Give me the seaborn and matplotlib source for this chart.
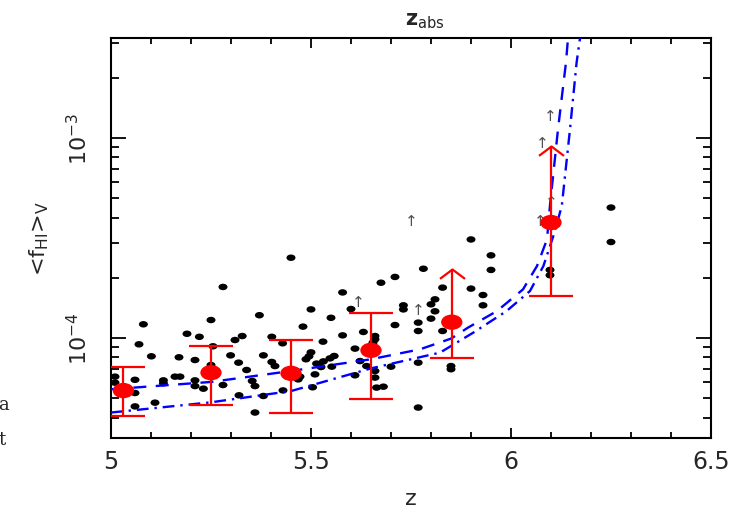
import matplotlib
matplotlib.use("Agg")
import matplotlib.pyplot as plt
import numpy as np
import pandas as pd
import seaborn as sns
from matplotlib.path import Path
from matplotlib.transforms import Affine2D
from matplotlib.ticker import LogLocator, MultipleLocator, NullFormatter

# ---- individual sightlines: redshift and volume-weighted neutral fraction
los_z = [5.010, 5.010, 5.060, 5.060, 5.060, 5.070, 5.081, 5.101, 5.110, 5.131,
         5.131, 5.160, 5.1725, 5.170, 5.190, 5.221, 5.210, 5.210, 5.210, 5.231,
         5.250, 5.280, 5.250, 5.255, 5.280, 5.299, 5.310, 5.328, 5.319, 5.320,
         5.339, 5.353, 5.360, 5.360, 5.371, 5.381, 5.381, 5.402, 5.402, 5.410,
         5.429, 5.430, 5.450, 5.468, 5.4725, 5.480, 5.4875, 5.495, 5.500, 5.500,
         5.504, 5.510, 5.514, 5.525, 5.530, 5.531, 5.550, 5.5475, 5.558, 5.552,
         5.579, 5.579, 5.600, 5.610, 5.610, 5.6225, 5.631, 5.639, 5.660, 5.660,
         5.655, 5.660, 5.660, 5.664, 5.675, 5.681, 5.700, 5.710, 5.710, 5.731,
         5.731, 5.768, 5.768, 5.768, 5.768, 5.781, 5.800, 5.810, 5.810, 5.800,
         5.829, 5.829, 5.850, 5.850, 5.900, 5.900, 5.930, 5.930, 5.950, 5.950,
         6.0975, 6.0975, 6.250, 6.250]
los_f = [6.41e-5, 5.98e-5, 6.18e-5, 5.31e-5, 4.55e-5, 9.30e-5, 1.171e-4, 8.10e-5, 4.75e-5, 6.14e-5,
         5.94e-5, 6.41e-5, 6.41e-5, 8.01e-5, 1.05e-4, 1.014e-4, 7.76e-5, 6.14e-5, 5.75e-5, 5.58e-5,
         1.23e-4, 1.80e-4, 7.33e-5, 9.09e-5, 5.82e-5, 8.19e-5, 9.77e-5, 1.023e-4, 7.53e-5, 5.17e-5,
         6.92e-5, 6.10e-5, 5.75e-5, 4.24e-5, 1.30e-4, 8.19e-5, 5.13e-5, 1.014e-4, 7.59e-5, 7.24e-5,
         9.41e-5, 5.47e-5, 2.52e-4, 6.21e-5, 6.41e-5, 1.14e-4, 7.83e-5, 8.10e-5, 8.48e-5, 1.39e-4,
         5.67e-5, 6.58e-5, 7.45e-5, 7.16e-5, 9.59e-5, 7.64e-5, 1.262e-4, 7.91e-5, 8.13e-5, 7.19e-5,
         1.69e-4, 1.031e-4, 1.396e-4, 8.85e-5, 6.51e-5, 7.67e-5, 1.072e-4, 7.24e-5, 1.023e-4, 9.85e-5,
         9.48e-5, 6.84e-5, 6.34e-5, 5.65e-5, 1.89e-4, 5.71e-5, 7.19e-5, 2.02e-4, 1.161e-4, 1.457e-4,
         1.39e-4, 1.194e-4, 1.084e-4, 7.53e-5, 4.49e-5, 2.22e-4, 1.474e-4, 1.561e-4, 1.36e-4, 1.25e-4,
         1.084e-4, 1.786e-4, 7.24e-5, 6.98e-5, 3.11e-4, 1.766e-4, 1.457e-4, 1.64e-4, 2.59e-4, 2.19e-4,
         2.19e-4, 2.06e-4, 4.49e-4, 3.02e-4]

# ---- sightlines that only give a lower limit
lim_z = [5.618, 5.750, 5.768, 6.0975, 6.079, 6.100, 6.0725]
lim_f = [1.53e-4, 3.85e-4, 1.39e-4, 1.29e-3, 9.55e-4, 4.84e-4, 3.89e-4]

# ---- binned means with their ranges
bin_z = [5.031, 5.25, 5.45, 5.65]
bin_f = [5.46e-5, 6.71e-5, 6.66e-5, 8.68e-5]
bin_lo = [4.07e-5, 4.62e-5, 4.20e-5, 4.94e-5]
bin_hi = [7.19e-5, 9.16e-5, 9.77e-5, 1.33e-4]

# ---- binned lower limits
lbin_z = [5.852, 6.10]
lbin_f = [1.20e-4, 3.78e-4]
lbin_lo = [7.98e-5, 1.62e-4]
lbin_top = [2.22e-4, 9.12e-4]

# ---- model curves
dash_z = [5.0, 5.25, 5.45, 5.65, 5.7725, 5.85, 5.8925, 5.965, 6.03, 6.065,
          6.09, 6.0975, 6.1175, 6.1375, 6.1425, 6.145]
dash_f = [5.54e-5, 6.03e-5, 6.84e-5, 7.83e-5, 8.78e-5, 9.93e-5, 1.127e-4, 1.364e-4, 1.75e-4, 2.29e-4,
          3.11e-4, 4.61e-4, 1.105e-3, 2.39e-3, 3.15e-3, 3.5e-3]
dashdot_z = [5.0, 5.25, 5.45, 5.65, 5.8225, 5.9058, 5.989, 6.0475, 6.081, 6.106,
             6.127, 6.1475, 6.164, 6.1725, 6.175]
dashdot_f = [4.24e-5, 4.77e-5, 5.43e-5, 7.05e-5, 8.45e-5, 1.064e-4, 1.364e-4, 1.718e-4, 2.29e-4, 3.24e-4,
             4.57e-4, 1.105e-3, 2.38e-3, 3.15e-3, 3.5e-3]

x_ticks = [5, 5.5, 6, 6.5]
x_ticklabels = ["5", "5.5", "6", "6.5"]
y_ticks = [1e-4, 1e-3]
y_ticklabels = [r"$10^{-4}$", r"$10^{-3}$"]

sns.set_style("ticks")
plt.rcParams["font.family"] = ["DejaVu Sans"]
plt.rcParams["mathtext.fontset"] = "dejavusans"
plt.rcParams["mathtext.default"] = "regular"

fig = plt.figure(figsize=(7.37, 5.10), dpi=100)
ax = fig.add_axes([0.1506, 0.1392, 0.8141, 0.7843])

# slightly flattened round marker
ellipse = Path.unit_circle().transformed(Affine2D().scale(1.0, 0.72))
# open upward arrowhead, tip at the origin
arrow_head = Path([(-1, -0.75), (0, 0), (1, -0.75)],
                  [Path.MOVETO, Path.LINETO, Path.LINETO])

los = pd.DataFrame({"z": los_z, "f": los_f})
sns.scatterplot(data=los, x="z", y="f", ax=ax, marker=ellipse, s=42,
                color="black", edgecolor="none", linewidth=0, zorder=2)

blue = "#0000ff"
sns.lineplot(x=dash_z, y=dash_f, ax=ax, color=blue, sort=False, estimator=None,
             lw=1.7, linestyle=(0, (5.5, 4)), zorder=3)
sns.lineplot(x=dashdot_z, y=dashdot_f, ax=ax, color=blue, sort=False, estimator=None,
             lw=1.7, linestyle=(0, (5, 2.5, 1, 2.5)), zorder=3)

for z, f in zip(lim_z, lim_f):
    ax.text(z, f, "\u2191", ha="center", va="center", fontsize=11,
            color="#505050", zorder=4)

red = "#ff0000"
bins = pd.DataFrame({"z": bin_z, "f": bin_f, "lo": bin_lo, "hi": bin_hi})
ax.errorbar(bins["z"], bins["f"],
            yerr=[bins["f"] - bins["lo"], bins["hi"] - bins["f"]],
            fmt="none", ecolor=red, elinewidth=1.6, capsize=15.5, capthick=1.6,
            zorder=5)

lbins = pd.DataFrame({"z": lbin_z, "f": lbin_f, "lo": lbin_lo, "top": lbin_top})
ax.errorbar(lbins["z"], lbins["f"],
            yerr=[lbins["f"] - lbins["lo"], lbins["top"] - lbins["f"]],
            fmt="none", ecolor=red, elinewidth=1.6, capsize=0, zorder=5)
ax.plot(lbins["z"], lbins["lo"], ls="none", marker="_", ms=31, mew=1.6,
        color=red, zorder=5)
ax.plot(lbins["z"], lbins["top"], ls="none", marker=arrow_head, ms=18, mew=1.6,
        mfc="none", mec=red, zorder=5)

means = pd.concat([bins[["z", "f"]], lbins[["z", "f"]]], ignore_index=True)
sns.scatterplot(data=means, x="z", y="f", ax=ax, marker=ellipse, s=235,
                color=red, edgecolor="none", linewidth=0, zorder=6)

ax.set_yscale("log")
ax.set_xlim(5.0, 6.5)
ax.set_ylim(10 ** -4.5, 10 ** -2.5)

ax.set_xticks(x_ticks, x_ticklabels)
ax.xaxis.set_minor_locator(MultipleLocator(0.1))
ax.set_yticks(y_ticks, y_ticklabels, rotation=90, va="center")
ax.yaxis.set_minor_locator(LogLocator(base=10, subs=np.arange(2, 10), numticks=20))
ax.yaxis.set_minor_formatter(NullFormatter())

ax.tick_params(which="both", direction="in", top=True, right=True,
               width=1.3, color="black")
ax.tick_params(axis="x", which="major", length=7.5, pad=8, labelsize=17)
ax.tick_params(axis="x", which="minor", length=4)
ax.tick_params(axis="y", which="major", length=11, pad=14, labelsize=16)
ax.tick_params(axis="y", which="minor", length=6)
for sp in ax.spines.values():
    sp.set_linewidth(1.5)
    sp.set_color("black")

ax.set_xlabel("z", fontsize=16, labelpad=11)
ax.set_ylabel(r"<f$_{\rm HI}$>$_{\rm V}$", fontsize=16)
ax.yaxis.set_label_coords(-0.10, 0.5)

fig.text(0.577, 0.958, r"z$_{\rm abs}$", fontsize=15, fontweight="bold",
         ha="center", va="center")

fig.text(-0.002, 0.206, "a", fontsize=13, family="DejaVu Serif",
         ha="left", va="center")
fig.text(-0.002, 0.137, "t", fontsize=13, family="DejaVu Serif",
         ha="left", va="center")

fig.savefig("out.png", dpi=100)
